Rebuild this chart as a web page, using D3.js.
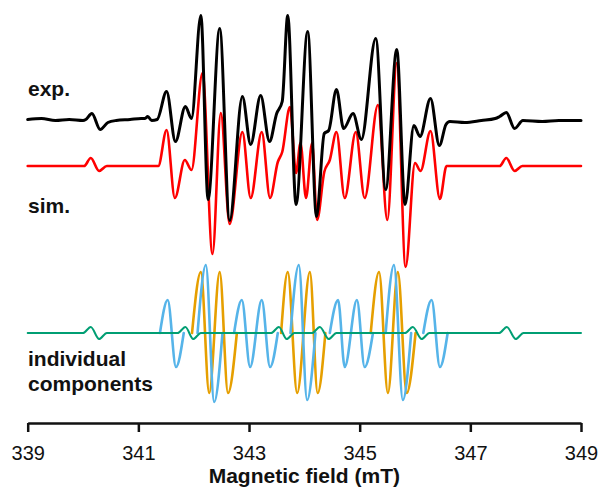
<!DOCTYPE html>
<html>
<head>
<meta charset="utf-8">
<script src="https://cdn.jsdelivr.net/npm/d3@7"></script>
<style>
  body { margin: 0; background: #fff; }
  svg { display: block; font-family: 'Liberation Sans', Arial, sans-serif; }
</style>
</head>
<body>
<div id="chart"></div>
<script>
// field ticks (mT)
const tickVals = [339, 341, 343, 345, 347, 349]

// spectra as [field mT, intensity a.u.]
const expPts = [
  [339.00, 0], [339.25, 1], [339.50, -1], [339.75, 0], [340.00, -1],
  [340.05, 0], [340.16, 6], [340.31, -10], [340.45, -3], [340.60, -1], [340.85, 0],
  [341.05, 1], [341.12, 1], [341.17, 3], [341.24, -1], [341.34, 0],
  [341.51, 28], [341.67, -22], [341.85, 13], [341.96, 1],
  [342.13, 104], [342.26, -80], [342.47, 91], [342.65, -101],
  [342.88, 23], [343.03, -25], [343.21, 24], [343.37, -22],
  [343.50, 6], [343.60, 18], [343.70, 104], [343.85, -85], [344.06, 88], [344.22, -97],
  [344.36, -14], [344.44, -11], [344.58, 30], [344.71, -9], [344.88, 6], [345.03, -20],
  [345.29, 81], [345.47, -70], [345.67, 70], [345.82, -85],
  [345.98, -6], [346.09, -17], [346.28, 21], [346.44, -26], [346.56, -5], [346.63, -2],
  [346.90, -3], [347.20, -1], [347.45, 1], [347.53, 3], [347.65, 7], [347.80, -9],
  [347.95, -1], [348.30, -2], [348.60, -1], [349.00, -1]
]

const simPts = [
  [339.00, 0], [340.02, 0], [340.14, 8], [340.29, -5], [340.43, 0],
  [341.36, 0], [341.51, 36], [341.66, -32], [341.84, 6], [341.96, -4],
  [342.16, 93], [342.34, -88], [342.49, 53], [342.65, -58],
  [342.88, 34], [343.03, -32], [343.23, 34], [343.38, -32],
  [343.52, 4], [343.60, 14], [343.74, 59], [343.85, -7], [343.93, 23], [344.03, -32],
  [344.14, 23], [344.23, -54], [344.36, -6], [344.46, 6],
  [344.58, 34], [344.73, -32], [344.93, 34], [345.09, -32],
  [345.33, 61], [345.50, -54], [345.67, 103], [345.83, -101],
  [346.00, 3], [346.10, -5], [346.28, 35], [346.45, -33], [346.57, 0],
  [347.53, 0], [347.65, 8], [347.80, -5], [347.94, 0], [349.00, 0]
]

// individual components
const orangeSegs = [
  [[341.97, 0], [342.13, 61], [342.28, -60], [342.47, 61], [342.62, -60], [342.78, 0]],
  [[343.58, 0], [343.70, 61], [343.87, -60], [344.10, 61], [344.24, -60], [344.38, 0]],
  [[345.20, 0], [345.35, 61], [345.51, -60], [345.69, 61], [345.85, -60], [346.01, 0]]
]

const blueSegs = [
  [[341.39, 0], [341.53, 33], [341.68, -34], [341.82, 0]],
  [[342.07, 0], [342.22, 68], [342.37, -69], [342.52, 0]],
  [[342.73, 0], [342.87, 33], [343.02, -34], [343.23, 33], [343.38, -34], [343.52, 0]],
  [[343.75, 0], [343.90, 68], [344.05, -67], [344.20, 0]],
  [[344.46, 0], [344.61, 33], [344.73, -34], [344.95, 33], [345.09, -34], [345.24, 0]],
  [[345.47, 0], [345.62, 68], [345.78, -67], [345.93, 0]],
  [[346.15, 0], [346.30, 33], [346.45, -34], [346.59, 0]]
]

const greenPts = [
  [339.00, 0], [340.00, 0], [340.14, 6], [340.29, -6], [340.43, 0],
  [341.71, 0], [341.85, 6], [341.99, -6], [342.13, 0],
  [343.40, 0], [343.54, 6], [343.68, -6], [343.82, 0],
  [344.14, 0], [344.28, 6], [344.44, -6], [344.58, 0],
  [345.82, 0], [345.96, 6], [346.12, -6], [346.26, 0],
  [347.52, 0], [347.66, 6], [347.82, -6], [347.96, 0],
  [349.00, 0]
]

const width = 600
const height = 487

const svg = d3.select('#chart')
  .append('svg')
  .attr('width', width)
  .attr('height', height)

const x = d3.scaleLinear().domain([339, 349]).range([27.7, 581])
const y = d3.scaleLinear().domain([-90, 333]).range([423, 0])

// vertical stacking offsets (a.u.)
const offExp = 213.5
const offSim = 167
const offComp = 0

function lineAt (off) {
  return d3.line()
    .x(d => x(d[0]))
    .y(d => y(d[1] + off))
    .curve(d3.curveMonotoneX)
}

const g = svg.append('g').attr('fill', 'none').attr('stroke-linejoin', 'round').attr('stroke-linecap', 'round')

g.selectAll('path.orange').data(orangeSegs).enter().append('path')
  .attr('class', 'orange').attr('d', lineAt(offComp))
  .attr('stroke', '#E69F00').attr('stroke-width', 2.6)

g.selectAll('path.blue').data(blueSegs).enter().append('path')
  .attr('class', 'blue').attr('d', lineAt(offComp))
  .attr('stroke', '#56B4E9').attr('stroke-width', 2.6)

g.append('path').datum(greenPts).attr('d', lineAt(offComp))
  .attr('stroke', '#009E73').attr('stroke-width', 2)

g.append('path').datum(simPts).attr('d', lineAt(offSim))
  .attr('stroke', '#ff0000').attr('stroke-width', 2.6)

g.append('path').datum(expPts).attr('d', lineAt(offExp))
  .attr('stroke', '#000').attr('stroke-width', 3)

// labels
const labels = svg.append('g').attr('font-size', 21).attr('font-weight', 'bold').attr('fill', '#111')
labels.append('text').attr('x', 28).attr('y', 96).text('exp.')
labels.append('text').attr('x', 28).attr('y', 213).text('sim.')
labels.append('text').attr('x', 28).attr('y', 366).text('individual')
labels.append('text').attr('x', 28).attr('y', 391).text('components')

// x axis
const axis = svg.append('g')
  .attr('transform', 'translate(0,423)')
  .call(d3.axisBottom(x).tickValues(tickVals).tickFormat(d3.format('d'))
    .tickSize(9).tickSizeOuter(0).tickPadding(14))
axis.select('.domain').attr('stroke', '#111').attr('stroke-width', 2.5)
axis.selectAll('.tick line').attr('stroke', '#111').attr('stroke-width', 2.5)
axis.selectAll('.tick text').attr('font-size', 20).attr('fill', '#111')
  .attr('font-family', "'Liberation Sans', Arial, sans-serif")

svg.append('text')
  .attr('x', (x(339) + x(349)) / 2)
  .attr('y', 483)
  .attr('text-anchor', 'middle')
  .attr('font-size', 21)
  .attr('font-weight', 'bold')
  .attr('fill', '#111')
  .text('Magnetic field (mT)')
</script>
</body>
</html>
